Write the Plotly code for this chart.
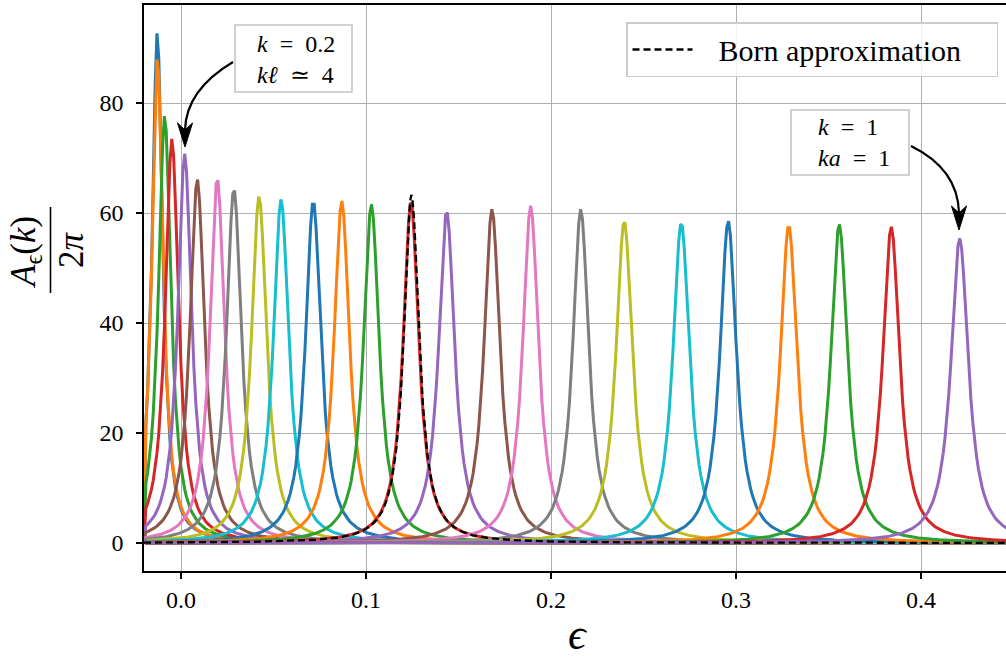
import numpy as np
import plotly.graph_objects as go

# ---------------- data ----------------
peak_centers = [-0.0128, -0.0127, -0.0088, -0.0049, 0.0020, 0.0088, 0.0196, 0.0286,
                0.0422, 0.0541, 0.0715, 0.0869, 0.1029, 0.1243, 0.1436, 0.1681,
                0.1890, 0.2161, 0.2396, 0.2704, 0.2958, 0.3285, 0.3558, 0.3839, 0.4209]
peak_heights = [93.0, 88.5, 77.8, 73.5, 70.8, 66.2, 66.4, 64.5, 63.1, 62.5, 62.2, 62.2,
                61.6, 62.1, 60.4, 60.7, 61.3, 60.7, 58.6, 58.3, 58.6, 57.8, 58.0, 57.5, 55.4]
peak_halfwidths = [0.00342, 0.00360, 0.00409, 0.00433, 0.00450, 0.00481, 0.00479, 0.00494,
                   0.00504, 0.00509, 0.00512, 0.00512, 0.00517, 0.00513, 0.00527, 0.00524,
                   0.00519, 0.00524, 0.00543, 0.00546, 0.00543, 0.00551, 0.00549, 0.00554, 0.00575]
edge_value = 0.4          # value of every curve at the first energy point (left edge)
born_center = 0.1246
born_height = 63.3
born_halfwidth = 0.00503

eps_min, eps_max, eps_step = -0.0200, 0.4475, 0.001
x_ticks = [0.0, 0.1, 0.2, 0.3, 0.4]
x_ticklabels = ["0.0", "0.1", "0.2", "0.3", "0.4"]
y_ticks = [0, 20, 40, 60, 80]
y_ticklabels = ["0", "20", "40", "60", "80"]

colors = ["#1f77b4", "#ff7f0e", "#2ca02c", "#d62728", "#9467bd",
          "#8c564b", "#e377c2", "#7f7f7f", "#bcbd22", "#17becf"]

# ---------------- geometry ----------------
W, H = 1006, 662
ML, MR, MT, MB = 144, 0, 5, 91
PW, PH = W - ML - MR, H - MT - MB
X0PX, XSCALE = 181.0, 1850.0   # pixel of eps=0, pixels per unit eps
Y0PX, YSCALE = 543.0, 5.5      # pixel of A=0, pixels per unit
xr = [(ML - X0PX) / XSCALE, (W - MR - X0PX) / XSCALE]
yr = [(Y0PX - (H - MB)) / YSCALE, (Y0PX - MT) / YSCALE]


def dx(px):
    return (px - X0PX) / XSCALE


def dy(py):
    return (Y0PX - py) / YSCALE


def px_(px):
    return (px - ML) / PW


def py_(py):
    return (H - MB - py) / PH


FONT = "Liberation Serif, DejaVu Serif, serif"

eps = np.arange(eps_min, eps_max, eps_step)


def lorentz(c, h, g):
    y = h * g * g / ((eps - c) ** 2 + g * g)
    y[0] = edge_value
    return y


fig = go.Figure()
for i, (c, h, g) in enumerate(zip(peak_centers, peak_heights, peak_halfwidths)):
    fig.add_trace(go.Scatter(x=eps, y=lorentz(c, h, g), mode="lines",
                             line=dict(color=colors[i % 10], width=3),
                             showlegend=False, hoverinfo="skip"))

eps_born = np.arange(eps_min, eps_max, eps_step / 2)
born = born_height * born_halfwidth ** 2 / ((eps_born - born_center) ** 2 + born_halfwidth ** 2)
fig.add_trace(go.Scatter(x=eps_born, y=born, mode="lines",
                         name="\u2002\u2009Born approximation\u2003",
                         line=dict(color="black", width=2.3, dash="7px,4px"),
                         showlegend=True, hoverinfo="skip"))

axis_common = dict(showgrid=True, gridcolor="#b0b0b0", gridwidth=1.3, zeroline=False,
                   showline=True, linecolor="black", linewidth=1.6,
                   ticks="outside", ticklen=6, tickwidth=1.5, tickcolor="black",
                   tickfont=dict(family=FONT, size=24, color="black"))

fig.update_xaxes(range=xr, tickvals=x_ticks, ticktext=x_ticklabels, mirror=True, **axis_common)
fig.update_yaxes(range=yr, tickvals=y_ticks, ticktext=y_ticklabels, mirror=False,
                 ticklabelstandoff=8, **axis_common)

shapes = []
annotations = []

# y-axis label as a fraction
annotations.append(dict(xref="paper", yref="paper", x=px_(25), y=py_(252), textangle=-90,
                        text="<i>A</i><sub>ϵ</sub>(<i>k</i>)", showarrow=False,
                        font=dict(family=FONT, size=35, color="black"),
                        xanchor="center", yanchor="middle"))
annotations.append(dict(xref="paper", yref="paper", x=px_(72), y=py_(250), textangle=-90,
                        text="2<i>π</i>", showarrow=False,
                        font=dict(family=FONT, size=35, color="black"),
                        xanchor="center", yanchor="middle"))
shapes.append(dict(type="line", xref="paper", yref="paper", x0=px_(50.5), x1=px_(50.5),
                   y0=py_(207), y1=py_(293), line=dict(color="black", width=1.6)))

# x-axis label
annotations.append(dict(xref="paper", yref="paper", x=px_(578), y=py_(661),
                        text="<i>ϵ</i>", showarrow=False,
                        font=dict(family=FONT, size=44, color="black"),
                        xanchor="center", yanchor="bottom"))

# text boxes
SP = "\u2002"
for (bx0, by0, bx1, by1, tx, ty, txt) in [
        (235, 25, 352, 92, 255, 59, f"<i>k</i>{SP}={SP}0.2<br><i>kℓ</i>{SP}≃{SP}4"),
        (791, 110, 909, 175, 816, 143, f"<i>k</i>{SP}={SP}1<br><i>ka</i>{SP}={SP}1")]:
    shapes.append(dict(type="rect", xref="paper", yref="paper", layer="above",
                       x0=px_(bx0), x1=px_(bx1), y0=py_(by1), y1=py_(by0),
                       fillcolor="white", line=dict(color="#c4c4c4", width=1.6)))
    annotations.append(dict(xref="paper", yref="paper", x=px_(tx), y=py_(ty), text=txt,
                            showarrow=False, align="left", xanchor="left", yanchor="middle",
                            font=dict(family=FONT, size=24, color="black")))

# curved arrows with filled heads
HEAD_L, HEAD_W, NOTCH = 24, 7.5, 17
for (s, c, tip) in [((233, 62), (186, 90), (185, 147)),
                    ((911, 146), (958, 169), (959, 230))]:
    e = (tip[0], tip[1] - NOTCH)
    shapes.append(dict(type="path", xref="x", yref="y", layer="above",
                       path=f"M {dx(s[0])},{dy(s[1])} Q {dx(c[0])},{dy(c[1])} {dx(e[0])},{dy(e[1])}",
                       line=dict(color="black", width=2.2)))
    pts = [(tip[0], tip[1]), (tip[0] - HEAD_W, tip[1] - HEAD_L),
           (tip[0], tip[1] - NOTCH), (tip[0] + HEAD_W, tip[1] - HEAD_L)]
    path = "M " + " L ".join(f"{dx(p[0])},{dy(p[1])}" for p in pts) + " Z"
    shapes.append(dict(type="path", xref="x", yref="y", layer="above", path=path,
                       fillcolor="black", line=dict(color="black", width=1)))

fig.update_layout(
    width=W, height=H,
    margin=dict(l=ML, r=MR, t=MT, b=MB),
    plot_bgcolor="white", paper_bgcolor="white",
    font=dict(family=FONT, color="black"),
    shapes=shapes, annotations=annotations,
    legend=dict(x=px_(998), y=py_(22), xanchor="right", yanchor="top",
                bgcolor="rgba(255,255,255,0.8)", bordercolor="#cccccc", borderwidth=1.5,
                font=dict(family=FONT, size=30, color="black"), itemwidth=60),
)

fig.write_html("out.html", config={"displayModeBar": False},
               post_script="document.body.style.margin='0';")
